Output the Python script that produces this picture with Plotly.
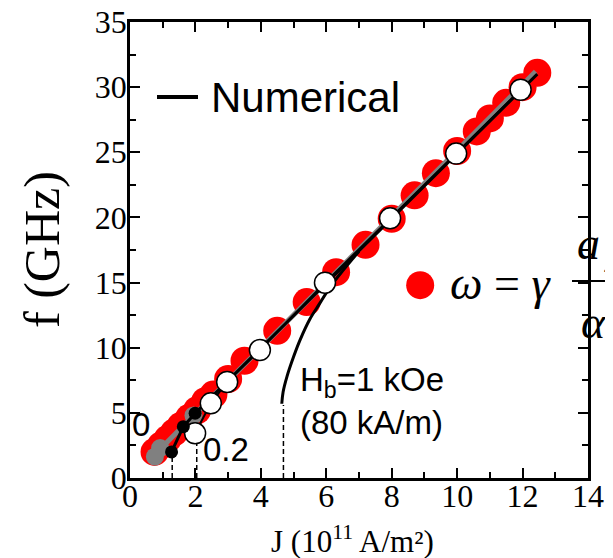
import plotly.graph_objects as go

# ---- data ----
# analytical (red circles): omega = gamma a_J / alpha
red_J = [0.75, 0.95, 1.15, 1.35, 1.55, 1.8, 2.05, 2.3, 2.55, 3.0, 3.5, 4.5, 5.4, 6.3, 7.2, 8.0, 8.7, 9.35, 10.0, 10.6, 11.0, 11.5, 12.0, 12.45]
red_f = [2.0, 2.5, 3.0, 3.5, 4.0, 4.6, 5.2, 5.9, 6.4, 7.6, 9.0, 11.3, 13.5, 15.8, 17.9, 19.9, 21.7, 23.4, 25.1, 26.6, 27.6, 28.8, 30.0, 31.1]

# gray reference line and gray points
gray_J = [0.72, 12.4]
gray_f = [1.7, 31.2]
graypt_J = [0.76, 0.92, 1.94]
graypt_f = [1.64, 2.3, 4.8]

# numerical, H_b = 0 (small black dots + line)
num0_J = [1.27, 1.63, 1.99, 12.45]
num0_f = [2.0, 3.94, 4.97, 31.0]
dot_J = [1.27, 1.63, 1.99]
dot_f = [2.0, 3.94, 4.97]

# numerical, H_b = 0.2 (open circles)
white_J = [1.99, 2.47, 2.97, 3.97, 5.96, 7.95, 9.97, 11.94]
white_f = [3.43, 5.73, 7.37, 9.82, 14.99, 19.93, 24.9, 29.8]

# numerical, H_b = 1 kOe (curve)
hb1_J = [4.64, 4.68, 4.8, 5.0, 5.2, 5.5, 5.8, 6.1, 6.5, 7.0]
hb1_f = [5.7, 6.6, 7.8, 9.3, 10.6, 12.2, 13.4, 14.6, 15.9, 17.4]

# threshold markers (dashed)
thr_J = [1.29, 2.04, 4.69]
thr_top = [1.6, 3.0, 5.6]

x_ticks = [0, 2, 4, 6, 8, 10, 12, 14]
y_ticks = [0, 5, 10, 15, 20, 25, 30, 35]

SERIF = "Liberation Serif, Times New Roman, serif"
SANS = "Liberation Sans, Arial, sans-serif"

fig = go.Figure()

for xj, top in zip(thr_J, thr_top):
    fig.add_trace(go.Scatter(x=[xj, xj], y=[0, top], mode="lines",
                             line=dict(color="black", width=1.5, dash="5px,3px"),
                             showlegend=False, hoverinfo="skip"))

fig.add_trace(go.Scatter(x=red_J, y=red_f, mode="markers",
                         marker=dict(size=28, color="#ff0000", line=dict(width=0)),
                         showlegend=False))
fig.add_trace(go.Scatter(x=gray_J, y=gray_f, mode="lines",
                         line=dict(color="#808080", width=5), showlegend=False))
fig.add_trace(go.Scatter(x=graypt_J, y=graypt_f, mode="markers",
                         marker=dict(size=18, color="#808080"), showlegend=False))
fig.add_trace(go.Scatter(x=num0_J, y=num0_f, mode="lines",
                         line=dict(color="black", width=3), showlegend=False))
fig.add_trace(go.Scatter(x=hb1_J, y=hb1_f, mode="lines",
                         line=dict(color="black", width=3, shape="spline"), showlegend=False))
fig.add_trace(go.Scatter(x=white_J, y=white_f, mode="lines+markers",
                         line=dict(color="black", width=2),
                         marker=dict(size=21, color="white", line=dict(color="black", width=1.5)),
                         showlegend=False))
fig.add_trace(go.Scatter(x=dot_J, y=dot_f, mode="markers",
                         marker=dict(size=13, color="black"), showlegend=False))

# formula legend dot
fig.add_trace(go.Scatter(x=[8.87], y=[14.8], mode="markers",
                         marker=dict(size=28, color="#ff0000"), showlegend=False,
                         cliponaxis=False))

# screen geometry of the plot area (page body adds an 8px offset)
W, H = 613, 558
OFF = 8
XL, XR, YT, YB = 130, 588, 22, 478
L, T = XL - OFF, YT - OFF
R = W - (XR - OFF)
B = H - (YB - OFF)


def px(xs):
    return (xs - XL) / (XR - XL)


def py(ys):
    return (YB - ys) / (YB - YT)


anns = [
    dict(x=0.34, y=4.1, text="0", font=dict(family=SANS, size=33)),
    dict(x=2.93, y=2.2, text="0.2", font=dict(family=SANS, size=33)),
    dict(x=5.15, y=5.9, text="H<sub>b</sub>=1 kOe<br>(80 kA/m)", xanchor="left",
         align="left", font=dict(family=SANS, size=33)),
    dict(x=px(209), y=py(97), xref="paper", yref="paper", text="Numerical", xanchor="left",
         font=dict(family=SANS, size=42)),
    dict(x=px(448), y=py(283), xref="paper", yref="paper", text="<i>ω</i> = <i>γ</i>",
         xanchor="left", font=dict(family=SERIF, size=46)),
    dict(x=px(575), y=py(243), xref="paper", yref="paper", text="<i>a</i>",
         xanchor="left", font=dict(family=SERIF, size=46)),
    dict(x=px(602), y=py(266), xref="paper", yref="paper", text="<i>J</i>",
         xanchor="left", font=dict(family=SERIF, size=16)),
    dict(x=px(579), y=py(322), xref="paper", yref="paper", text="<i>α</i>",
         xanchor="left", font=dict(family=SERIF, size=46)),
    dict(x=px(42), y=py(250), xref="paper", yref="paper", text="f (GHz)", textangle=-90,
         xanchor="center", font=dict(family=SERIF, size=50)),
    dict(x=px(352), y=py(539), xref="paper", yref="paper", xanchor="center",
         text="J (10<sup>11</sup> A/m²)", font=dict(family=SERIF, size=31)),
]
for a in anns:
    a.setdefault("showarrow", False)
    a.setdefault("xref", "x")
    a.setdefault("yref", "y")
    a.setdefault("xanchor", "center")
    a["yanchor"] = "middle"
    a["font"]["color"] = "black"
fig.update_layout(annotations=anns)

fig.add_shape(type="line", xref="paper", yref="paper",
              x0=px(157), x1=px(198), y0=py(97), y1=py(97),
              line=dict(color="black", width=4))
fig.add_shape(type="line", xref="paper", yref="paper",
              x0=px(572), x1=px(625), y0=py(281), y1=py(281),
              line=dict(color="black", width=2))

axis_common = dict(showline=True, linewidth=2.5, linecolor="black", mirror="allticks",
                   ticks="inside", ticklen=10, tickwidth=2, tickcolor="black",
                   showgrid=False, zeroline=False, ticklabeloverflow="allow",
                   automargin=False,
                   tickfont=dict(family=SERIF, size=32, color="black"))
fig.update_xaxes(range=[0, 14], tickvals=x_ticks, ticklabelstandoff=-12,
                 minor=dict(dtick=1, ticks="inside", ticklen=6, tickwidth=2, tickcolor="black"),
                 **axis_common)
fig.update_yaxes(range=[0, 35], tickvals=y_ticks, ticklabelstandoff=-6,
                 minor=dict(dtick=2.5, ticks="inside", ticklen=6, tickwidth=2, tickcolor="black"),
                 **axis_common)

fig.update_layout(width=W, height=H, margin=dict(l=L, r=R, t=T, b=B, autoexpand=False),
                  plot_bgcolor="white", paper_bgcolor="white", showlegend=False)

fig.write_html("out.html")
